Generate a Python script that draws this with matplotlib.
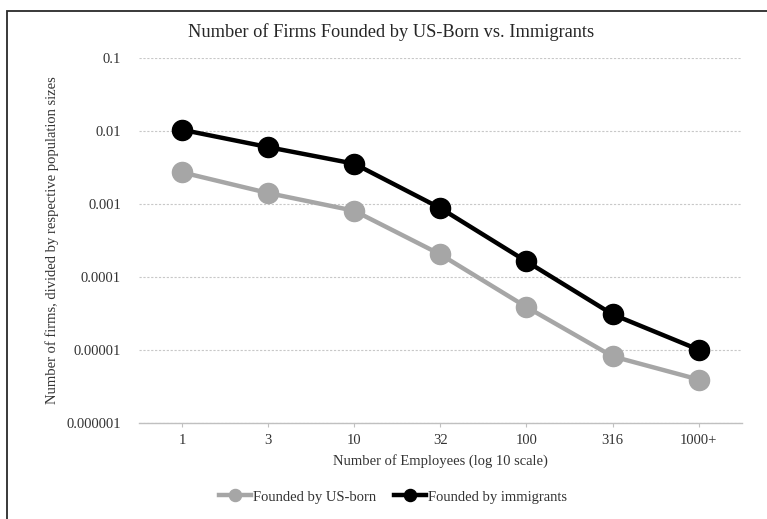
import matplotlib.pyplot as plt
from matplotlib.patches import Rectangle
from matplotlib.ticker import FixedLocator, NullLocator

plt.rcParams['font.family'] = ['Liberation Serif', 'DejaVu Serif']

# --- data ---
employees = ['1', '3', '10', '32', '100', '316', '1000+']
us_born = [2.69e-3, 1.40e-3, 8.0e-4, 2.02e-4, 3.84e-5, 8.1e-6, 3.9e-6]
immigrants = [1.03e-2, 5.96e-3, 3.53e-3, 8.7e-4, 1.62e-4, 3.05e-5, 1.0e-5]
ytick_vals = [1e-6, 1e-5, 1e-4, 1e-3, 1e-2, 1e-1]
ytick_labels = ['0.000001', '0.00001', '0.0001', '0.001', '0.01', '0.1']

text_col = '#333333'
gray = '#a6a6a6'

fig = plt.figure(figsize=(7.67, 5.19), dpi=100)
ax = fig.add_axes([0.1812, 0.1856, 0.7858, 0.7032])

x = list(range(len(employees)))
ax.plot(x, us_born, color=gray, lw=3.2, marker='o', ms=14.5,
        label='Founded by US-born', zorder=3)
ax.plot(x, immigrants, color='black', lw=3.2, marker='o', ms=14.5,
        label='Founded by immigrants', zorder=4)

ax.set_yscale('log')
ax.set_ylim(1e-6, 1e-1)
ax.set_xlim(-0.5, len(employees) - 0.5)
ax.yaxis.set_major_locator(FixedLocator(ytick_vals))
ax.yaxis.set_minor_locator(NullLocator())
ax.set_yticks(ytick_vals)
ax.set_yticklabels(ytick_labels)
ax.set_xticks(x)
ax.set_xticklabels(employees)

# grid and spines
ax.grid(axis='y', color='#c8c8c8', ls=(0, (2, 1.5)), lw=0.8)
ax.set_axisbelow(True)
for s in ['left', 'right', 'top']:
    ax.spines[s].set_visible(False)
ax.spines['bottom'].set_color('#c0c0c0')
ax.spines['bottom'].set_linewidth(1.0)
ax.tick_params(axis='y', length=0, pad=13, labelsize=10.5, labelcolor=text_col)
ax.tick_params(axis='x', length=3, color='#c0c0c0', pad=5, labelsize=10.5,
               labelcolor=text_col)

# title is centred on the whole chart area, not on the plot
fig.text(391.5 / 767, 1 - 32 / 519,
         'Number of Firms Founded by US-Born vs. Immigrants',
         fontsize=13.2, color='#262626', ha='center', va='center')
ax.set_xlabel('Number of Employees (log 10 scale)', fontsize=10.5,
              color=text_col, labelpad=5)
ax.set_ylabel('Number of firms, divided by respective population sizes',
              fontsize=10.5, color=text_col, labelpad=5)

fig.legend(loc='center', bbox_to_anchor=(393 / 767, 1 - 497 / 519), ncol=2,
           frameon=False, fontsize=10.5, handlelength=2.2, handletextpad=0.15,
           columnspacing=1.2, markerscale=0.6, labelcolor=text_col)

# chart border (cropped on the right and bottom)
fig.patches.append(Rectangle((7 / 767, -0.1), 1.2, 1.1 - 11 / 519,
                             transform=fig.transFigure, fill=False,
                             edgecolor='#2a2a2a', lw=1.3))

fig.savefig('out.png', dpi=100)
